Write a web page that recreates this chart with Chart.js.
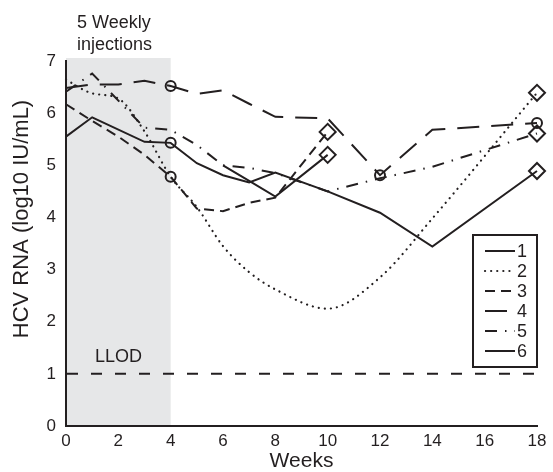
<!DOCTYPE html>
<html>
<head>
<meta charset="utf-8">
<script src="https://cdn.jsdelivr.net/npm/chart.js@4.4.1/dist/chart.umd.min.js"></script>
<style>
  html, body { margin: 0; padding: 0; background: #fff; }
</style>
</head>
<body>
<canvas id="chart" width="553" height="472"></canvas>
<script>
// weeks where samples were taken (null = no sample for that patient)
const weeks = [0, 1, 2, 3, 4, 5, 6, 7, 8, 10, 12, 14, 18];

const patient1 = [5.55, 5.92, null, 5.45, 5.43, 5.04, 4.81, 4.67, 4.86, 4.5, 4.09, 3.44, 4.89];
const patient2 = [6.64, 6.38, 6.28, 5.65, 4.78, 4.2, 3.45, 2.95, 2.62, 2.25, 2.85, 3.98, 6.39];
const patient3 = [6.17, 5.85, 5.55, 5.2, 4.78, 4.17, 4.12, 4.28, 4.38, 5.64, null, null, null];
const patient4 = [6.48, 6.55, 6.55, 6.62, 6.52, 6.37, 6.44, 6.18, 5.93, 5.9, 4.81, 5.68, 5.81];
const patient5 = [6.41, 6.76, null, 5.72, 5.68, 5.39, 5.0, 4.95, 4.85, 4.5, 4.75, 4.97, 5.61];
const patient6 = [null, null, null, null, null, null, 5.0, 4.7, 4.4, 5.2, null, null, null];

// o = circle, d = diamond
const marks1 = ['', '', '', '', 'o', '', '', '', '', '', '', '', 'd'];
const marks2 = ['', '', '', '', '', '', '', '', '', '', '', '', 'd'];
const marks3 = ['', '', '', '', 'o', '', '', '', '', 'd', '', '', ''];
const marks4 = ['', '', '', '', 'o', '', '', '', '', '', 'o', '', 'o'];
const marks5 = ['', '', '', '', '', '', '', '', '', '', '', '', 'd'];
const marks6 = ['', '', '', '', '', '', '', '', '', 'd', '', '', ''];

const seriesNames = ['1', '2', '3', '4', '5', '6'];
const injectionWeeks = [0, 4];
const llod = 1;

const ink = '#231f20';
const fontFamily = '"Liberation Sans", Arial, Helvetica, sans-serif';

function makeSet(label, values, marks, dash, extra) {
  return Object.assign({
    label: label,
    data: weeks.map((w, i) => ({ x: w, y: values[i] })),
    borderColor: ink,
    borderWidth: 2,
    borderDash: dash,
    backgroundColor: 'rgba(0,0,0,0)',
    spanGaps: true,
    tension: 0,
    clip: false,
    pointStyle: (c) => marks[c.dataIndex] === 'o' ? 'circle' : 'rectRot',
    pointRadius: (c) => marks[c.dataIndex] === 'o' ? 5 : (marks[c.dataIndex] === 'd' ? 8 : 0),
    pointBorderWidth: 2,
    pointBorderColor: ink,
    pointBackgroundColor: 'rgba(0,0,0,0)',
  }, extra || {});
}

const datasets = [
  makeSet(seriesNames[0], patient1, marks1, []),
  makeSet(seriesNames[1], patient2, marks2, [0.1, 6], { borderCapStyle: 'round', cubicInterpolationMode: 'monotone', borderWidth: 2.2 }),
  makeSet(seriesNames[2], patient3, marks3, [10, 6]),
  makeSet(seriesNames[3], patient4, marks4, [22, 12]),
  makeSet(seriesNames[4], patient5, marks5, [12, 8, 1.5, 8]),
  makeSet(seriesNames[5], patient6, marks6, []),
];

const decor = {
  id: 'decor',
  beforeDraw(chart) {
    const { ctx, chartArea: a, scales: { x } } = chart;
    const x0 = x.getPixelForValue(injectionWeeks[0]);
    const x1 = x.getPixelForValue(injectionWeeks[1]);
    ctx.save();
    ctx.fillStyle = '#e6e7e8';
    ctx.fillRect(x0, a.top - 3, x1 - x0, a.bottom - a.top + 3);
    ctx.fillStyle = ink;
    ctx.font = '18px ' + fontFamily;
    ctx.textBaseline = 'middle';
    ctx.textAlign = 'left';
    ctx.fillText('5 Weekly', x0 + 11, 23);
    ctx.fillText('injections', x0 + 11, 45);
    // y axis title
    ctx.save();
    ctx.translate(22, 219);
    ctx.rotate(-Math.PI / 2);
    ctx.textAlign = 'center';
    ctx.font = '22px ' + fontFamily;
    ctx.fillText('HCV RNA (log10 IU/mL)', 0, 0);
    ctx.restore();
    ctx.restore();
  },
  beforeDatasetsDraw(chart) {
    const { ctx, chartArea: a, scales: { x, y } } = chart;
    const yy = y.getPixelForValue(llod);
    ctx.save();
    ctx.strokeStyle = ink;
    ctx.lineWidth = 2;
    ctx.setLineDash([11, 13]);
    ctx.beginPath();
    ctx.moveTo(a.left + 1, yy);
    ctx.lineTo(a.right, yy);
    ctx.stroke();
    ctx.setLineDash([]);
    ctx.fillStyle = ink;
    ctx.font = '18px ' + fontFamily;
    ctx.textBaseline = 'middle';
    ctx.fillText('LLOD', x.getPixelForValue(0) + 29, yy - 17);
    ctx.restore();
  },
  afterDraw(chart) {
    // legend box in the lower right of the plot
    const { ctx, chartArea: a } = chart;
    const bx = a.right - 64, by = a.bottom - 191, bw = 64, bh = 132;
    ctx.save();
    ctx.fillStyle = '#fff';
    ctx.fillRect(bx, by, bw, bh);
    ctx.strokeStyle = ink;
    ctx.lineWidth = 2;
    ctx.strokeRect(bx, by, bw, bh);
    ctx.font = '18px ' + fontFamily;
    ctx.textBaseline = 'middle';
    ctx.fillStyle = ink;
    chart.data.datasets.forEach((ds, i) => {
      const ry = by + 16 + i * 20;
      ctx.save();
      ctx.lineWidth = ds.borderWidth;
      ctx.lineCap = ds.borderCapStyle || 'butt';
      ctx.setLineDash(ds.borderDash);
      ctx.beginPath();
      ctx.moveTo(bx + 12, ry);
      ctx.lineTo(bx + 42, ry);
      ctx.stroke();
      ctx.restore();
      ctx.fillText(ds.label, bx + 44, ry + 1);
    });
    ctx.restore();
  }
};

new Chart(document.getElementById('chart'), {
  type: 'line',
  data: { datasets: datasets },
  options: {
    responsive: false,
    animation: false,
    layout: { padding: { top: 61, right: 16, left: 0, bottom: 0 } },
    plugins: { legend: { display: false }, tooltip: { enabled: false } },
    scales: {
      x: {
        type: 'linear',
        min: 0,
        max: 18,
        ticks: { stepSize: 2, color: ink, padding: 5, font: { size: 17, family: fontFamily } },
        grid: { display: true, drawOnChartArea: false, drawTicks: false },
        border: { display: true, color: ink, width: 2 },
        title: { display: true, text: 'Weeks', color: ink, padding: 0, font: { size: 21, family: fontFamily, lineHeight: 1 } },
        afterFit: (s) => { s.height = 46; }
      },
      y: {
        type: 'linear',
        min: 0,
        max: 7,
        ticks: { stepSize: 1, color: ink, padding: 10, font: { size: 17, family: fontFamily } },
        grid: { display: true, drawOnChartArea: false, drawTicks: false },
        border: { display: true, color: ink, width: 2 },
        title: { display: false },
        afterFit: (s) => { s.width = 66; }
      }
    }
  },
  plugins: [decor]
});
</script>
</body>
</html>
